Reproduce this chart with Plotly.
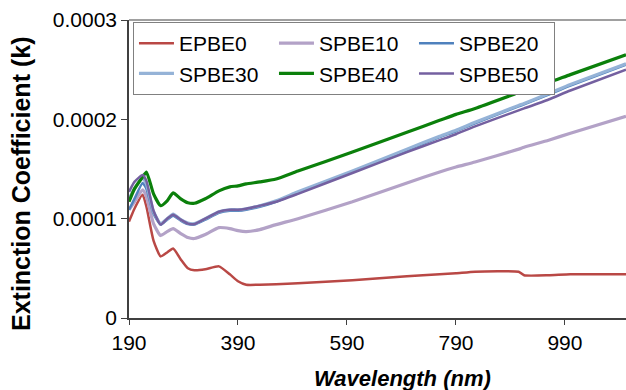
import plotly.graph_objects as go

wavelength = [190, 200, 215, 222, 235, 248, 260, 271, 285, 298, 310, 330, 355, 375, 390, 405,
              430, 460, 500, 600, 700, 760, 790, 825, 905, 915, 960, 1000, 1102]

# values in units of 1e-4
epbe0 = [0.97, 1.10, 1.24, 1.12, 0.78, 0.62, 0.66, 0.70, 0.59, 0.50, 0.48, 0.49, 0.52, 0.44, 0.37, 0.335,
         0.335, 0.34, 0.35, 0.38, 0.42, 0.44, 0.45, 0.466, 0.466, 0.43, 0.43, 0.44, 0.44]
spbe10 = [1.09, 1.17, 1.29, 1.22, 0.95, 0.83, 0.87, 0.90, 0.85, 0.81, 0.80, 0.84, 0.91, 0.90, 0.88, 0.87,
          0.89, 0.94, 1.00, 1.17, 1.36, 1.47, 1.52, 1.57, 1.70, 1.72, 1.79, 1.86, 2.03]
spbe20 = [1.09, 1.20, 1.36, 1.30, 1.05, 0.94, 0.99, 1.03, 0.98, 0.945, 0.94, 0.99, 1.06, 1.08, 1.08, 1.09,
          1.12, 1.17, 1.26, 1.47, 1.69, 1.82, 1.88, 1.96, 2.13, 2.15, 2.25, 2.34, 2.55]
spbe30 = [1.20, 1.30, 1.41, 1.35, 1.07, 0.95, 1.00, 1.045, 0.99, 0.955, 0.95, 1.00, 1.07, 1.09, 1.09, 1.10,
          1.13, 1.18, 1.27, 1.48, 1.70, 1.83, 1.89, 1.97, 2.14, 2.16, 2.26, 2.35, 2.56]
spbe40 = [1.17, 1.30, 1.42, 1.47, 1.25, 1.13, 1.18, 1.26, 1.20, 1.16, 1.155, 1.20, 1.28, 1.32, 1.33, 1.35,
          1.37, 1.40, 1.48, 1.67, 1.87, 1.99, 2.05, 2.11, 2.27, 2.29, 2.37, 2.45, 2.65]
spbe50 = [1.27, 1.37, 1.44, 1.38, 1.08, 0.94, 1.00, 1.04, 0.99, 0.95, 0.945, 1.00, 1.07, 1.09, 1.09, 1.10,
          1.13, 1.17, 1.25, 1.46, 1.67, 1.79, 1.85, 1.93, 2.09, 2.11, 2.20, 2.29, 2.50]

series_names = ["EPBE0", "SPBE10", "SPBE20", "SPBE30", "SPBE40", "SPBE50"]
series_values = [epbe0, spbe10, spbe20, spbe30, spbe40, spbe50]
colors = ["#B94845", "#B3A2C7", "#4F81BD", "#95B3D7", "#0B800B", "#7460A0"]
widths = [2.5, 3.2, 2.5, 3.2, 3.2, 2.5]

x_ticks = [190, 390, 590, 790, 990]
y_ticks = [0, 0.0001, 0.0002, 0.0003]
y_ticktext = ["0", "0.0001", "0.0002", "0.0003"]

FONT = "Liberation Sans, Arial, sans-serif"

fig = go.Figure()
for name, vals, c, w in zip(series_names, series_values, colors, widths):
    fig.add_trace(go.Scatter(
        x=wavelength, y=[v * 1e-4 for v in vals], mode="lines", name=name,
        line=dict(color=c, width=w, shape="spline", smoothing=0.5),
    ))

fig.update_layout(
    width=626, height=390,
    margin=dict(l=129, r=0, t=20, b=72),
    paper_bgcolor="white", plot_bgcolor="white",
    font=dict(family=FONT, size=20, color="#000000"),
    showlegend=True,
    legend=dict(
        orientation="h", x=0.008, y=(318 - 22) / 298, xanchor="left", yanchor="top",
        bordercolor="#808080", borderwidth=1, bgcolor="white",
        font=dict(family=FONT, size=21, color="#000000"),
        entrywidth=90, entrywidthmode="pixels",
        itemwidth=35, tracegroupgap=0,
    ),
    xaxis=dict(
        range=[190, 1102], tickvals=x_ticks, ticks="outside", ticklen=5,
        tickcolor="#404040", showline=True, linecolor="#404040", linewidth=1.5,
        showgrid=False, zeroline=False, tickfont=dict(size=21, family=FONT),
    ),
    yaxis=dict(
        range=[0, 0.0003], tickvals=y_ticks, ticktext=y_ticktext, ticks="outside",
        ticklen=6, tickcolor="#404040", showline=True, linecolor="#404040", linewidth=1.5,
        showgrid=False, zeroline=False, tickfont=dict(size=21, family=FONT),
    ),
    shapes=[dict(type="line", xref="paper", yref="paper", x0=0, x1=1, y0=1, y1=1,
                 line=dict(color="#808080", width=1.5))],
    annotations=[
        dict(text="<b><i>Wavelength (nm)</i></b>", xref="paper", yref="paper",
             x=(402 - 129) / 497, y=(318 - 378) / 298, xanchor="center", yanchor="middle",
             showarrow=False, font=dict(size=22, family=FONT)),
        dict(text="<b>Extinction Coefficient (k)</b>", xref="paper", yref="paper",
             x=(21 - 129) / 497, y=(318 - 184) / 298, xanchor="center", yanchor="middle",
             textangle=-90, showarrow=False, font=dict(size=25, family=FONT)),
    ],
)

fig.write_html("out.html", config={"displayModeBar": False},
               post_script="document.body.style.margin='0';document.body.style.overflow='hidden';")
